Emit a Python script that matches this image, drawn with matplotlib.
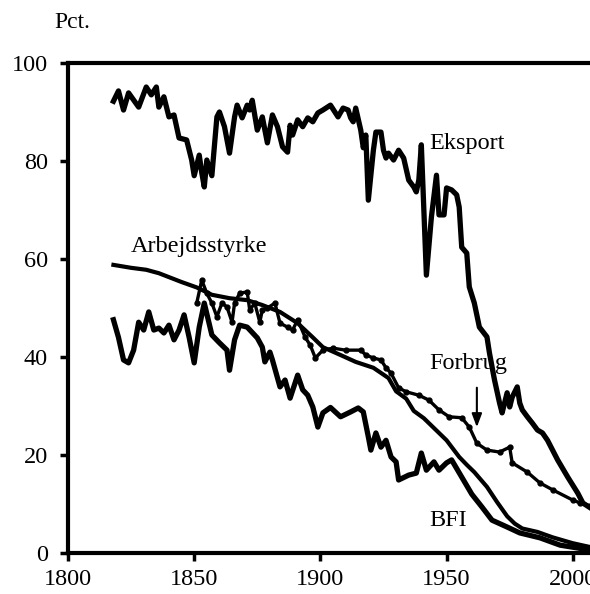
import matplotlib.pyplot as plt
import numpy as np

plt.rcParams['font.family'] = ['Liberation Serif', 'DejaVu Serif']

# Eksport
eks_aar = [1818, 1820, 1822, 1824, 1828, 1831, 1833, 1835, 1836, 1838, 1840, 1842, 1844, 1847,
           1849, 1850, 1852, 1853, 1854, 1855, 1857, 1859, 1860, 1862, 1864, 1866, 1867, 1869,
           1871, 1872, 1873, 1875, 1877, 1879, 1881, 1883, 1885, 1887, 1888, 1889, 1891, 1893,
           1895, 1897, 1899, 1901, 1904, 1907, 1909, 1911, 1912, 1913, 1914, 1916, 1917, 1918,
           1919, 1921, 1922, 1924, 1925, 1926, 1927, 1929, 1931, 1933, 1935, 1937, 1938, 1939,
           1940, 1942, 1944, 1946, 1947, 1949, 1950, 1952, 1954, 1955, 1956, 1958, 1959, 1961,
           1963, 1966, 1967, 1969, 1971, 1972, 1974, 1975, 1976, 1978, 1979, 1980, 1982, 1984,
           1986, 1988, 1990, 1994, 1998, 2002, 2004, 2007]
eks = [92.2, 94.3, 90.4, 93.9, 91.0, 95.1, 93.5, 95.1, 91.0, 93.1, 89.0, 89.4, 84.7, 84.3,
       80.2, 77.0, 81.2, 77.6, 74.7, 80.2, 77.0, 89.0, 90.0, 87.0, 81.6, 89.0, 91.4, 88.8,
       91.4, 90.4, 92.4, 86.3, 89.0, 83.7, 89.4, 87.0, 82.9, 81.8, 87.3, 85.3, 88.4, 87.0,
       88.8, 88.0, 89.8, 90.4, 91.4, 89.0, 90.8, 90.4, 88.8, 88.0, 90.8, 86.3, 82.7, 85.3,
       72.0, 82.2, 85.9, 85.9, 82.2, 80.6, 81.6, 80.2, 82.2, 80.6, 76.1, 74.7, 73.7, 76.1,
       83.3, 56.7, 68.6, 77.1, 69.0, 69.0, 74.5, 74.1, 73.1, 70.6, 62.4, 61.2, 54.3, 51.0,
       46.1, 44.1, 40.8, 35.3, 30.6, 28.6, 32.7, 29.8, 31.8, 33.9, 30.6, 29.2, 27.8, 26.5,
       25.1, 24.5, 23.0, 19.0, 15.5, 12.2, 10.2, 9.2]

# Forbrug
forb_aar = [1851, 1853, 1855, 1857, 1859, 1861, 1863, 1865, 1866, 1868, 1871, 1872, 1874, 1876,
            1877, 1879, 1882, 1884, 1887, 1889, 1891, 1894, 1896, 1898, 1901, 1905, 1910, 1916,
            1918, 1921, 1924, 1926, 1928, 1931, 1934, 1939, 1943, 1947, 1951, 1956, 1959, 1962,
            1966, 1971, 1975, 1976, 1982, 1987, 1992, 2000, 2003, 2007]
forb = [51.0, 55.7, 53.0, 51.0, 48.2, 51.0, 50.2, 47.1, 51.0, 53.0, 53.3, 49.6, 51.0, 47.1,
        49.6, 50.0, 51.0, 46.9, 46.1, 45.5, 47.6, 44.0, 42.4, 39.8, 41.4, 41.8, 41.4, 41.4,
        40.4, 39.8, 39.4, 37.8, 36.7, 33.7, 32.9, 32.2, 31.2, 29.2, 27.8, 27.6, 25.7, 22.4,
        21.0, 20.6, 21.6, 18.4, 16.5, 14.3, 12.9, 10.8, 10.2, 9.6]

# Arbejdsstyrke
arb_aar = [1818, 1825, 1831, 1836, 1840, 1845, 1851, 1857, 1864, 1871, 1877, 1884, 1891, 1897,
           1901, 1908, 1914, 1921, 1927, 1930, 1934, 1937, 1941, 1944, 1950, 1955, 1958, 1961,
           1966, 1970, 1974, 1977, 1980, 1986, 1992, 2000, 2007]
arb = [58.8, 58.2, 57.8, 57.1, 56.3, 55.3, 54.2, 52.7, 52.0, 51.6, 50.6, 49.2, 46.9, 44.0,
       42.0, 40.4, 39.0, 37.8, 35.7, 33.0, 31.5, 29.0, 27.5, 26.0, 23.0, 19.6, 18.0, 16.5,
       13.5, 10.4, 7.5, 6.0, 5.0, 4.3, 3.2, 2.0, 1.2]

# BFI
bfi_aar = [1818, 1820, 1822, 1824, 1826, 1828, 1830, 1832, 1834, 1836, 1838, 1840, 1842, 1844,
           1846, 1848, 1850, 1852, 1854, 1857, 1860, 1863, 1864, 1866, 1868, 1871, 1875, 1877,
           1878, 1880, 1881, 1884, 1886, 1888, 1891, 1893, 1895, 1897, 1899, 1901, 1904, 1908,
           1912, 1915, 1917, 1919, 1920, 1922, 1924, 1926, 1928, 1930, 1931, 1935, 1938, 1940,
           1942, 1945, 1947, 1950, 1952, 1956, 1960, 1964, 1968, 1974, 1979, 1987, 1995, 2007]
bfi = [47.6, 44.0, 39.4, 38.8, 41.4, 47.1, 45.5, 49.2, 45.5, 45.9, 44.9, 46.5, 43.5, 45.5,
       48.6, 44.0, 38.8, 46.1, 51.0, 44.5, 42.9, 41.4, 37.3, 43.5, 46.5, 46.1, 43.9, 42.0,
       39.0, 41.0, 39.4, 33.9, 35.3, 31.6, 36.3, 33.3, 32.2, 29.8, 25.7, 28.6, 29.7, 27.8,
       28.8, 29.6, 28.8, 23.7, 21.0, 24.5, 21.6, 23.0, 19.6, 18.6, 14.9, 15.9, 16.3, 20.4,
       16.9, 18.6, 16.9, 18.4, 19.0, 15.5, 12.0, 9.4, 6.7, 5.3, 4.1, 3.1, 1.6, 0.6]

fig = plt.figure(figsize=(5.9, 5.94), dpi=100)
ax = fig.add_axes([68 / 590, 41 / 594, 530 / 590, 490 / 594])

ax.plot(eks_aar, eks, color='black', lw=3.8, solid_joinstyle='round')
ax.plot(arb_aar, arb, color='black', lw=3.0, solid_joinstyle='round')
ax.plot(forb_aar, forb, color='black', lw=2.4, marker='o', ms=3.5)
ax.plot(bfi_aar, bfi, color='black', lw=3.8, solid_joinstyle='round')

ax.set_xlim(1800, 2010)
ax.set_ylim(0, 100)
ax.set_xticks([1800, 1850, 1900, 1950, 2000])
ax.set_yticks([0, 20, 40, 60, 80, 100])

for s in ['left', 'bottom', 'top']:
    ax.spines[s].set_linewidth(3)
ax.spines['right'].set_visible(False)
ax.tick_params(direction='out', length=5.5, width=2.5, labelsize=17.5, pad=6)
ax.tick_params(axis='y', pad=9)

ax.text(1825, 60.5, 'Arbejdsstyrke', fontsize=17.5, va='bottom')
ax.text(1943, 81.5, 'Eksport', fontsize=17.5, va='bottom')
ax.text(1943, 36.5, 'Forbrug', fontsize=17.5, va='bottom')
ax.text(1943, 4.5, 'BFI', fontsize=17.5, va='bottom')
ax.annotate('', xy=(1962, 25.1), xytext=(1962, 34.3),
            arrowprops=dict(arrowstyle='-|>,head_width=0.3,head_length=0.8',
                            lw=1.5, color='black'))

fig.text(54 / 590, 1 - 22 / 594, 'Pct.', fontsize=17, va='center', ha='left')

fig.savefig('out.png', dpi=100)
